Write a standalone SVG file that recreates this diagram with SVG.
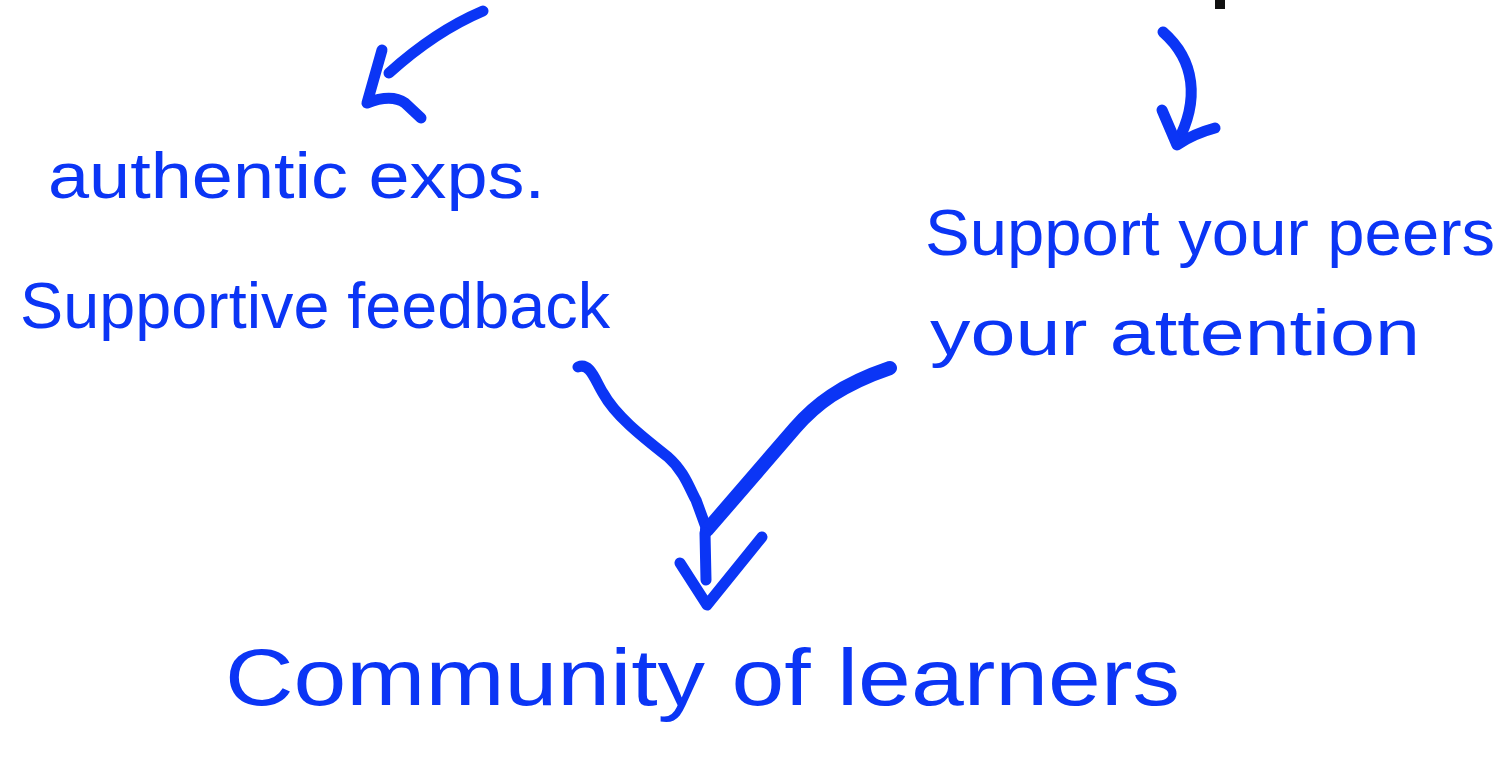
<svg xmlns="http://www.w3.org/2000/svg" width="1506" height="773" viewBox="0 0 1506 773">
<style>
.t{font-family:"Liberation Sans","DejaVu Sans",sans-serif;fill:#0b35f5;font-size:64px}
.c{fill:none;stroke:#0b35f5;stroke-linecap:round;stroke-linejoin:round;stroke-width:11}
</style>
<rect width="1506" height="773" fill="#fff"/>
<rect x="1215" y="0" width="10" height="9" fill="#111"/>
<g id="connectors">
<path class="c" d="M483,11 C450,25 420,45 389,73"/>
<path class="c" d="M382,50 L367,103 C380,98 395,96 405,103 L421,118"/>
<path class="c" d="M1163,32 C1195,60 1200,100 1177,143"/>
<path class="c" d="M1162,110 L1177,145 C1190,136 1200,132 1215,128"/>
<path class="c" d="M578,367 C590,362 595,380 603,393 C615,415 640,435 668,457 C685,472 690,490 696,500 L707,530"/>
<path class="c" style="stroke-width:14" d="M707,530 L795,428 C815,405 840,385 890,368"/>
<path class="c" d="M705,533 L706,580"/>
<path class="c" d="M680,563 L707,605 L762,537"/>
</g>
<g id="n1"><text class="t" x="48" y="198" textLength="497" lengthAdjust="spacingAndGlyphs">authentic exps.</text>
<text class="t" x="20" y="328" textLength="590" lengthAdjust="spacingAndGlyphs">Supportive feedback</text></g>
<g id="n2"><text class="t" x="925" y="255" textLength="570" lengthAdjust="spacingAndGlyphs">Support your peers</text>
<text class="t" x="930" y="355" textLength="490" lengthAdjust="spacingAndGlyphs">your attention</text></g>
<g id="n3"><text class="t" style="font-size:80px" x="225" y="705" textLength="955" lengthAdjust="spacingAndGlyphs">Community of learners</text></g>
</svg>
